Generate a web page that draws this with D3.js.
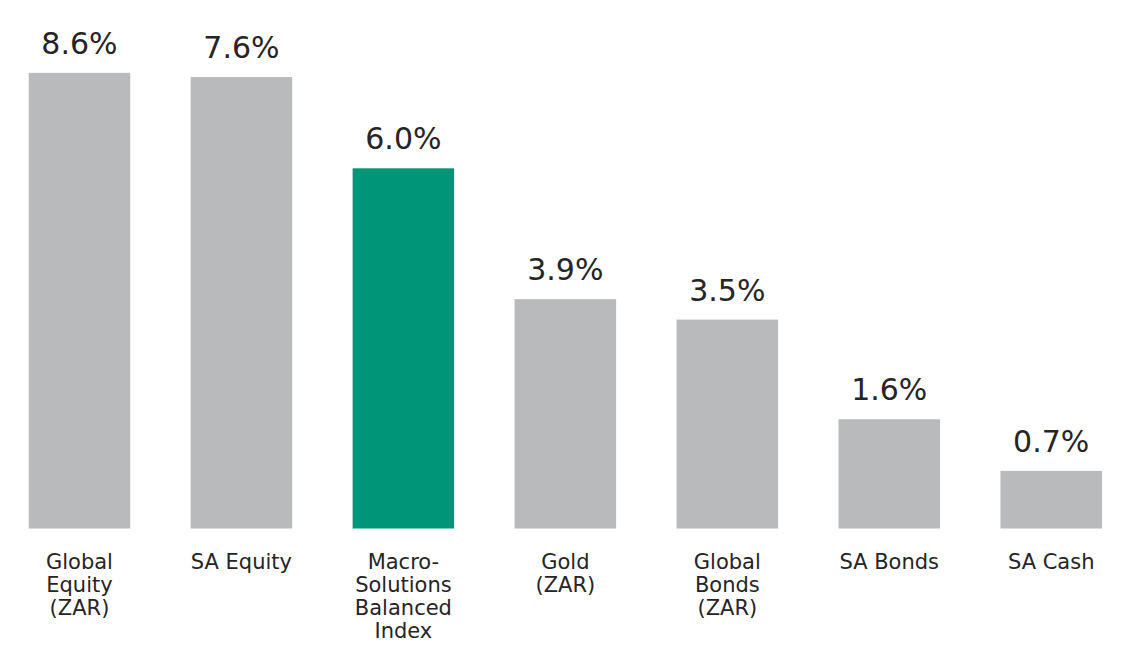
<!DOCTYPE html>
<html>
<head>
<meta charset="utf-8">
<script src="https://cdn.jsdelivr.net/npm/d3@7"></script>
<style>
  html, body { margin: 0; padding: 0; background: #ffffff; }
  svg { display: block; }
  text { font-family: "DejaVu Sans", "Noto Sans", sans-serif; fill: #262426; }
</style>
</head>
<body>
<svg id="chart" width="1132" height="659"></svg>
<script>
// Categories (multi-line labels as drawn)
const categories = [
  ["Global", "Equity", "(ZAR)"],
  ["SA Equity"],
  ["Macro-", "Solutions", "Balanced", "Index"],
  ["Gold", "(ZAR)"],
  ["Global", "Bonds", "(ZAR)"],
  ["SA Bonds"],
  ["SA Cash"]
];
// Printed return values (%)
const returns = [8.6, 7.6, 6.0, 3.9, 3.5, 1.6, 0.7];
// Bar lengths as drawn in the source picture (% units; source bars are not to scale with printed labels)
const barLengths = [7.59, 7.52, 6.0, 3.82, 3.48, 1.82, 0.96];
// Highlighted category
const highlight = [false, false, true, false, false, false, false];

const svg = d3.select("#chart");
const W = 1132, H = 659;
svg.append("rect").attr("width", W).attr("height", H).attr("fill", "#ffffff");

const idx = d3.range(categories.length);
const x = d3.scaleBand()
  .domain(idx)
  .range([28.7, 1102])
  .paddingInner(0.373)
  .paddingOuter(0);

const y = d3.scaleLinear()
  .domain([0, 6])
  .range([528.5, 168.3]);

// Bars
svg.append("g").selectAll("rect")
  .data(idx)
  .join("rect")
  .attr("x", i => x(i))
  .attr("y", i => y(barLengths[i]))
  .attr("width", x.bandwidth())
  .attr("height", i => y(0) - y(barLengths[i]))
  .attr("fill", i => highlight[i] ? "#009579" : "#b9babc");

// Value labels
svg.append("g").selectAll("text")
  .data(idx)
  .join("text")
  .attr("x", i => x(i) + x.bandwidth() / 2)
  .attr("y", i => y(barLengths[i]) - 19)
  .attr("text-anchor", "middle")
  .attr("font-size", 30)
  .text(i => returns[i].toFixed(1) + "%");

// Category labels
const catG = svg.append("g").selectAll("text")
  .data(idx)
  .join("text")
  .attr("x", i => x(i) + x.bandwidth() / 2)
  .attr("y", 568.5)
  .attr("text-anchor", "middle")
  .attr("font-size", 21);

catG.selectAll("tspan")
  .data(i => categories[i].map(line => ({ line, cx: x(i) + x.bandwidth() / 2 })))
  .join("tspan")
  .attr("x", d => d.cx)
  .attr("dy", (d, k) => k === 0 ? 0 : 23.3)
  .text(d => d.line);
</script>
</body>
</html>
